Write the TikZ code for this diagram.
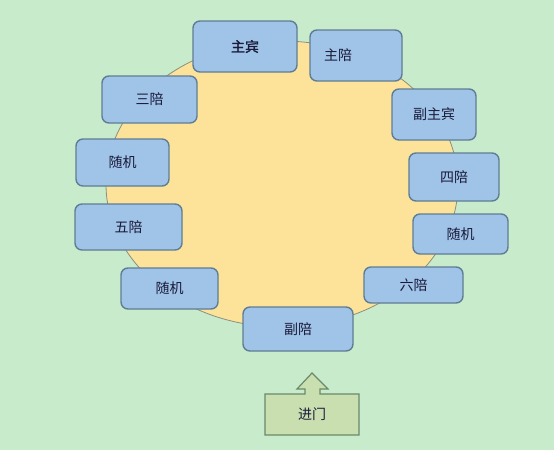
\documentclass[tikz,border=0pt]{standalone}
\usepackage{fontspec}
\newfontfamily\cjk[AutoFakeBold=1.5]{Noto Sans CJK SC}
\definecolor{bgc}{HTML}{C8EBCB}
\definecolor{tablec}{HTML}{FDE39A}
\definecolor{tableb}{HTML}{8A8F80}
\definecolor{boxc}{HTML}{A0C4E8}
\definecolor{boxb}{HTML}{5F7D95}
\definecolor{doorc}{HTML}{C9DFB0}
\definecolor{doorb}{HTML}{6A8A6A}
\definecolor{txt}{HTML}{1A1A3A}
\tikzset{
  seat/.style={draw=boxb, line width=1.4pt, fill=boxc, rounded corners=7pt,
    inner sep=0pt, font=\cjk\fontsize{14pt}{16pt}\selectfont, text=txt},
}
\begin{document}
\begin{tikzpicture}[x=1pt,y=-1pt]
\useasboundingbox (0,0) rectangle (554,450);
\fill[bgc] (0,0) rectangle (554,450);
\draw[tableb, fill=tablec, line width=0.8pt] (282,184) ellipse [x radius=176pt, y radius=143pt];
\node[seat, minimum width=104pt, minimum height=51pt] (zhubin) at (245,46.5) {\textbf{主宾}};
\node[seat, minimum height=51pt, text width=64pt, inner xsep=14pt, align=left] (zhupei) at (356,55.5) {主陪};
\node[seat, minimum width=84pt, minimum height=51pt] (fuzhubin) at (434,114.5) {副主宾};
\node[seat, minimum width=95pt, minimum height=47pt] (sanpei) at (149.5,99.5) {三陪};
\node[seat, minimum width=93pt, minimum height=47pt] (suijiA) at (122.5,162.5) {随机};
\node[seat, minimum width=107pt, minimum height=46pt] (wupei) at (128.5,227) {五陪};
\node[seat, minimum width=97pt, minimum height=41pt] (suijiB) at (169.5,288.5) {随机};
\node[seat, minimum width=90pt, minimum height=48pt] (sipei) at (454,177) {四陪};
\node[seat, minimum width=95pt, minimum height=40pt] (suijiC) at (460.5,234) {随机};
\node[seat, minimum width=99pt, minimum height=36pt] (liupei) at (413.5,285) {六陪};
\node[seat, minimum width=110pt, minimum height=44pt] (fupei) at (298,329) {副陪};
\draw[doorb, fill=doorc, line width=1.2pt] (265,435) -- (265,394) -- (305,394) -- (305,389) -- (297,389) -- (312,373) -- (328,389) -- (320,389) -- (320,394) -- (359,394) -- (359,435) -- cycle;
\node[font=\cjk\fontsize{14pt}{16pt}\selectfont, text=txt, inner sep=0pt] (door) at (312,414.5) {进门};
\end{tikzpicture}
\end{document}
